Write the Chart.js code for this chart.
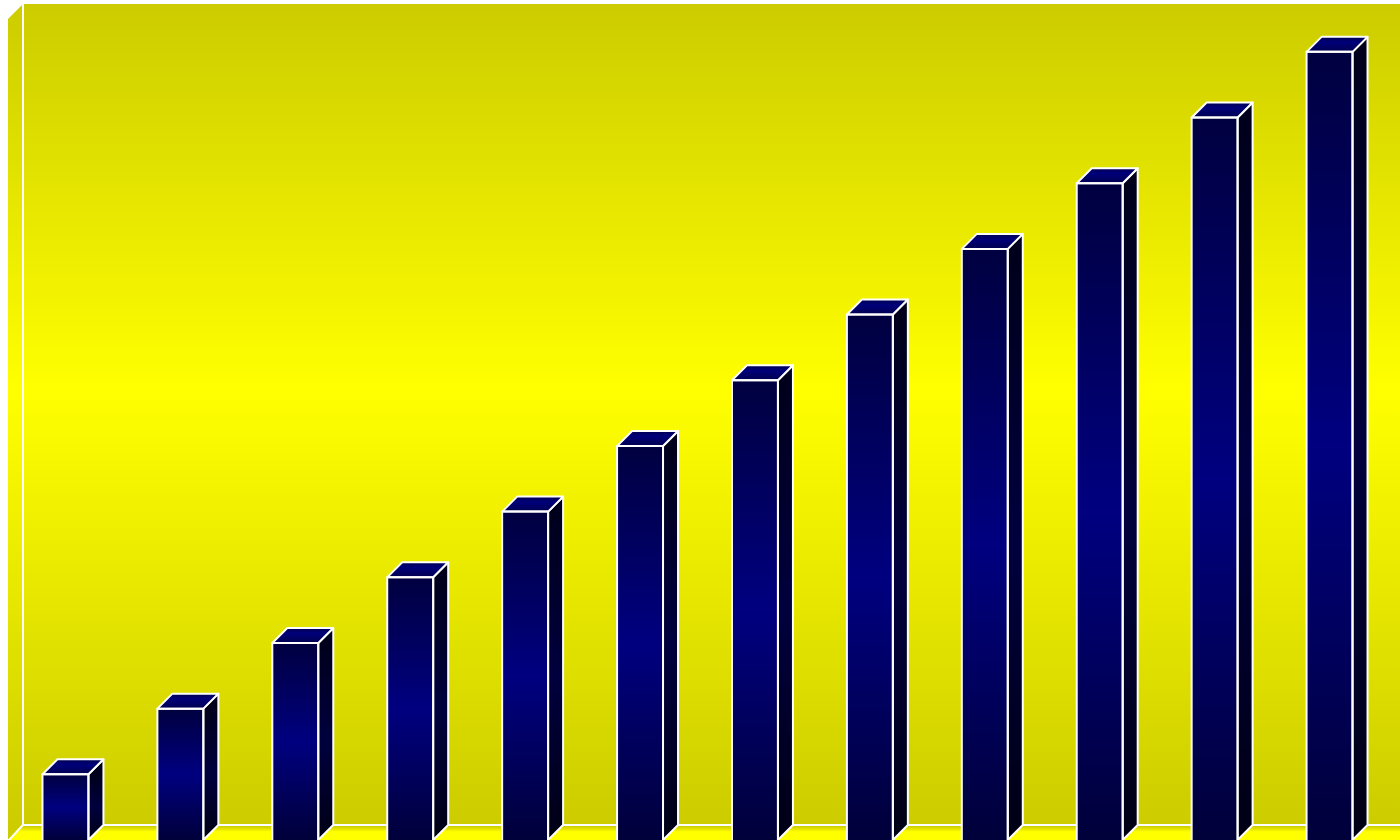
<!DOCTYPE html>
<html>
<head>
<meta charset="utf-8">
<script src="https://cdn.jsdelivr.net/npm/chart.js@4.4.0/dist/chart.umd.min.js"></script>
<style>
  html, body { margin: 0; padding: 0; background: #ffffff; }
  #wrap { width: 1400px; height: 840px; position: relative; }
</style>
</head>
<body>
<div id="wrap"><canvas id="chart"></canvas></div>
<script>
const categories = ["1", "2", "3", "4", "5", "6", "7", "8", "9", "10", "11", "12"];
const values = [1, 2, 3, 4, 5, 6, 7, 8, 9, 10, 11, 12];
const yMax = 12.5;

// depth of the fake 3D box
const DX = 15;
const DY = 15;

function vGrad(ctx, y0, y1, stops) {
  const g = ctx.createLinearGradient(0, y0, 0, y1);
  stops.forEach(([p, c]) => g.addColorStop(p, c));
  return g;
}

const wallStops = [[0, "#cccc00"], [0.47, "#ffff00"], [1, "#cccc00"]];

const boxPlugin = {
  id: "box3d",
  beforeDatasetsDraw(chart) {
    const { ctx, chartArea: a } = chart;
    const backTop = a.top - DY;
    const backBottom = a.bottom - DY;
    ctx.save();

    // back wall
    ctx.fillStyle = vGrad(ctx, backTop, backBottom, wallStops);
    ctx.fillRect(a.left + DX, backTop, a.right - a.left + 30, backBottom - backTop);

    // left wall
    ctx.beginPath();
    ctx.moveTo(a.left, a.top);
    ctx.lineTo(a.left + DX, backTop);
    ctx.lineTo(a.left + DX, backBottom);
    ctx.lineTo(a.left, a.bottom);
    ctx.closePath();
    ctx.fill();

    // floor
    ctx.fillStyle = vGrad(ctx, backBottom, a.bottom, [[0, "#c4c400"], [0.3, "#e8e800"], [0.45, "#ffff00"], [1, "#ffff00"]]);
    ctx.beginPath();
    ctx.moveTo(a.left + DX, backBottom);
    ctx.lineTo(a.right + DX + 30, backBottom);
    ctx.lineTo(a.right + 30, a.bottom + 2);
    ctx.lineTo(a.left, a.bottom + 2);
    ctx.closePath();
    ctx.fill();

    // white edges
    ctx.strokeStyle = "#ffffff";
    ctx.lineWidth = 2;
    ctx.beginPath();
    ctx.moveTo(a.left + DX, backTop);
    ctx.lineTo(a.left + DX, backBottom);
    ctx.lineTo(a.right + DX + 30, backBottom);
    ctx.moveTo(a.left + DX, backBottom);
    ctx.lineTo(a.left, a.bottom + 1);
    ctx.stroke();
    ctx.restore();
  },
  afterDatasetsDraw(chart) {
    const { ctx } = chart;
    const meta = chart.getDatasetMeta(0);
    ctx.save();
    ctx.strokeStyle = "#ffffff";
    ctx.lineWidth = 2;
    ctx.lineJoin = "round";
    meta.data.forEach((bar) => {
      const { x, y, base, width } = bar.getProps(["x", "y", "base", "width"], true);
      const l = x - width / 2;
      const r = x + width / 2;

      // side face
      ctx.fillStyle = vGrad(ctx, y, base, [[0, "#00001c"], [0.5, "#00003e"], [1, "#000014"]]);
      ctx.beginPath();
      ctx.moveTo(r, y);
      ctx.lineTo(r + DX, y - DY);
      ctx.lineTo(r + DX, base - DY);
      ctx.lineTo(r, base);
      ctx.closePath();
      ctx.fill();
      ctx.stroke();

      // top face
      ctx.fillStyle = vGrad(ctx, y - DY, y, [[0, "#000050"], [0.35, "#00007a"], [1, "#000050"]]);
      ctx.beginPath();
      ctx.moveTo(l, y);
      ctx.lineTo(l + DX, y - DY);
      ctx.lineTo(r + DX, y - DY);
      ctx.lineTo(r, y);
      ctx.closePath();
      ctx.fill();
      ctx.stroke();

      // front outline
      ctx.strokeRect(l, y, width, base - y + 4);
    });
    ctx.restore();
  }
};

new Chart(document.getElementById("chart"), {
  type: "bar",
  data: {
    labels: categories,
    datasets: [{
      data: values,
      borderWidth: 0,
      barPercentage: 0.4,
      categoryPercentage: 1.0,
      backgroundColor: (c) => {
        const chart = c.chart;
        if (!chart.chartArea) return "#000080";
        const top = chart.scales.y.getPixelForValue(c.raw);
        const bottom = chart.scales.y.getPixelForValue(0);
        return vGrad(chart.ctx, top, bottom, [[0, "#000040"], [0.5, "#000080"], [1, "#00003a"]]);
      }
    }]
  },
  options: {
    responsive: true,
    maintainAspectRatio: false,
    animation: false,
    layout: { padding: { left: 8, top: 19, right: 13, bottom: 0 } },
    plugins: { legend: { display: false }, tooltip: { enabled: false } },
    scales: {
      x: { display: false },
      y: { display: false, min: 0, max: yMax }
    }
  },
  plugins: [boxPlugin]
});
</script>
</body>
</html>
